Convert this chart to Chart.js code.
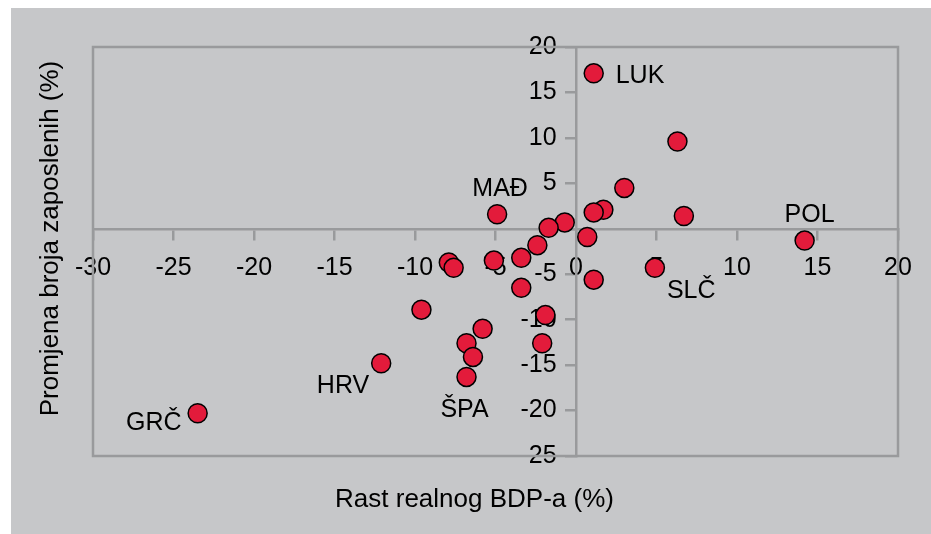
<!DOCTYPE html>
<html>
<head>
<meta charset="utf-8">
<script src="https://cdn.jsdelivr.net/npm/chart.js@4"></script>
<style>
    html, body { margin: 0; padding: 0; background: #fff; }
    #wrap { position: absolute; left: 11px; top: 8px; width: 920px; height: 526px; background: #c6c7c9; }
</style>
</head>
<body>
<div id="wrap"><canvas id="rastZaposlenost"></canvas></div>
<script>
const rastBdp = [1.1, 6.3, 3.0, 1.7, 1.1, 6.7, -4.9, -0.7, -1.7, 0.7, -2.4, -3.4, 14.2, -5.1,
    -7.9, -7.6, 1.1, 4.9, -3.4, -9.6, -1.9, -5.8, -6.8, -2.1, -6.4, -6.8, -12.1, -23.5];
const promjenaZaposlenih = [17.1, 9.6, 4.5, 2.1, 1.8, 1.4, 1.6, 0.7, 0.1, -0.9, -1.8, -3.2, -1.3, -3.5,
    -3.7, -4.3, -5.6, -4.3, -6.5, -8.9, -9.5, -11.0, -12.6, -12.6, -14.1, -16.3, -14.8, -20.3];
const oznake = ['LUK', '', '', '', '', '', 'MAĐ', '', '', '', '', '', 'POL', '',
    '', '', '', 'SLČ', '', '', '', '', '', '', '', 'ŠPA', 'HRV', 'GRČ'];
const xTicks = [-30, -25, -20, -15, -10, -5, 0, 5, 10, 15, 20];
const yTicks = [-25, -20, -15, -10, -5, 0, 5, 10, 15, 20];

const font = "'Liberation Sans', Arial, sans-serif";
const axisGray = '#999a9c';

// where each country label sits relative to its point
const labelPlace = {
    'LUK': { align: 'left', dx: 22, dy: 10 },
    'MAĐ': { align: 'center', dx: 3, dy: -18 },
    'POL': { align: 'center', dx: 5, dy: -19 },
    'SLČ': { align: 'left', dx: 12, dy: 30 },
    'HRV': { align: 'right', dx: -12, dy: 30 },
    'ŠPA': { align: 'center', dx: -2, dy: 40 },
    'GRČ': { align: 'right', dx: -16, dy: 17 },
};

const framePlugin = {
    id: 'frame',
    beforeDatasetsDraw(chart) {
        const { ctx, chartArea: a } = chart;
        ctx.save();
        ctx.strokeStyle = axisGray;
        ctx.lineWidth = 2.5;
        ctx.strokeRect(a.left, a.top, a.right - a.left, a.bottom - a.top);
        ctx.restore();
    },
    afterDraw(chart) {
        const { ctx, chartArea: a } = chart;
        ctx.save();
        ctx.fillStyle = '#000';
        ctx.font = '26px ' + font;
        ctx.textAlign = 'center';
        ctx.textBaseline = 'alphabetic';
        ctx.fillText('Rast realnog BDP-a (%)', (a.left + a.right) / 2 - 21, a.bottom + 51);
        ctx.translate(a.left - 35, (a.top + a.bottom) / 2 - 13);
        ctx.rotate(-Math.PI / 2);
        ctx.fillText('Promjena broja zaposlenih (%)', 0, 0);
        ctx.restore();
    }
};

const labelPlugin = {
    id: 'oznake',
    afterDatasetsDraw(chart) {
        const { ctx } = chart;
        const meta = chart.getDatasetMeta(0);
        ctx.save();
        ctx.fillStyle = '#000';
        ctx.font = '25px ' + font;
        ctx.textBaseline = 'alphabetic';
        meta.data.forEach((el, i) => {
            const name = oznake[i];
            if (!name) return;
            const p = labelPlace[name];
            ctx.textAlign = p.align;
            ctx.fillText(name, el.x + p.dx, el.y + p.dy);
        });
        ctx.restore();
    }
};

const scaleBase = (ticks, pos) => ({
    type: 'linear',
    position: pos,
    min: Math.min(...ticks),
    max: Math.max(...ticks),
    afterBuildTicks: scale => { scale.ticks = ticks.map(v => ({ value: v })); },
    grid: { drawOnChartArea: false, drawTicks: true, tickLength: 10, color: axisGray, lineWidth: 2.5 },
    border: { display: true, color: axisGray, width: 2.5 },
    ticks: { color: '#000', font: { family: font, size: 25 }, padding: 14, maxRotation: 0, autoSkip: false },
});

const xScale = scaleBase(xTicks, { y: 0 });
const yScale = scaleBase(yTicks, { x: 0 });
// labels of a y axis placed at x=0 sit right on the line, so pad them with trailing spaces
yScale.ticks.callback = v => (v === 0 ? '' : v + '\u2002 ');

new Chart(document.getElementById('rastZaposlenost'), {
    type: 'scatter',
    data: {
        datasets: [{
            data: rastBdp.map((x, i) => ({ x: x, y: promjenaZaposlenih[i] })),
            backgroundColor: '#e31b3b',
            borderColor: '#000',
            borderWidth: 1.5,
            pointRadius: 9.5,
        }]
    },
    options: {
        responsive: true,
        maintainAspectRatio: false,
        animation: false,
        layout: { padding: { left: 82, right: 33, top: 39, bottom: 78 } },
        plugins: { legend: { display: false }, tooltip: { enabled: false } },
        scales: { x: xScale, y: yScale },
    },
    plugins: [framePlugin, labelPlugin],
});
</script>
</body>
</html>
